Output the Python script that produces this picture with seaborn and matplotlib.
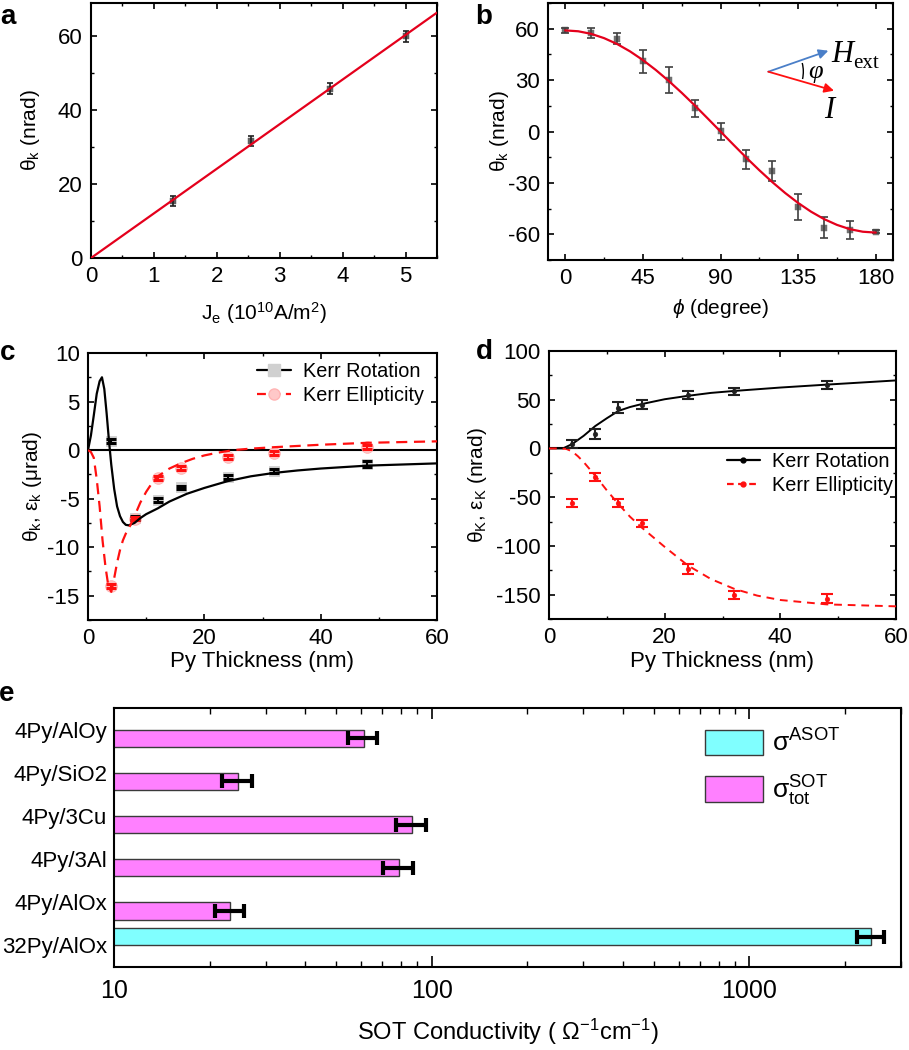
import numpy as np
import pandas as pd
import matplotlib
matplotlib.use("Agg")
import matplotlib.pyplot as plt
import seaborn as sns
from matplotlib.lines import Line2D
from matplotlib.patches import Arc
from matplotlib.ticker import MultipleLocator, LogLocator, NullFormatter

# ---------------- data ----------------
# panel a
a_je = [1.3, 2.55, 3.8, 5.0]
a_theta = [15.5, 31.6, 45.8, 60.0]
a_err = [1.3, 1.3, 1.5, 1.5]
a_fit_x = [0.0, 5.5]
a_fit_y = [0.0, 66.4]

# panel b
b_phi = [0, 15, 30, 45, 60, 75, 90, 105, 120, 135, 150, 165, 180]
b_theta = [59.0, 57.5, 54.2, 40.9, 29.8, 13.6, 0.2, -16.2, -23.0, -44.2, -56.1, -57.5, -58.4]
b_err = [1.3, 3.0, 3.0, 6.7, 7.6, 5.0, 4.9, 5.6, 5.8, 7.5, 6.1, 5.5, 1.0]
b_fit_x = [0, 7.5, 15, 22.5, 30, 37.5, 45, 52.5, 60, 67.5, 75, 82.5, 90,
           97.5, 105, 112.5, 120, 127.5, 135, 142.5, 150, 157.5, 165, 172.5, 180]
b_fit_y = [59.0, 58.5, 57.0, 54.5, 51.1, 46.8, 41.7, 35.9, 29.5, 22.6, 15.3, 7.7, 0.0,
           -7.7, -15.3, -22.6, -29.5, -35.9, -41.7, -46.8, -51.1, -54.5, -57.0, -58.5, -59.0]

# panel c
thick = [4, 8, 12, 16, 24, 32, 48]
c_rot = [0.9, -7.0, -5.1, -3.85, -2.8, -2.15, -1.4]
c_rot_err = [0.2, 0.2, 0.2, 0.2, 0.2, 0.2, 0.3]
c_ell = [-14.0, -7.05, -2.9, -1.8, -0.7, -0.3, 0.35]
c_ell_err = [0.25, 0.2, 0.2, 0.2, 0.2, 0.2, 0.2]
c_rot_fit_x = [0, 0.5, 1, 1.5, 2, 2.4, 2.8, 3.2, 3.6, 4.0, 4.5, 5, 5.5, 6, 6.5, 7, 8, 9,
               10, 12, 14, 17, 20, 24, 28, 32, 36, 40, 48, 60]
c_rot_fit_y = [0, 1.5, 3.6, 5.8, 7.1, 7.5, 6.3, 3.8, 1.0, -1.5, -4.0, -5.8, -6.8, -7.4,
               -7.7, -7.75, -7.5, -7.0, -6.6, -6.0, -5.3, -4.5, -3.9, -3.2, -2.7, -2.35,
               -2.1, -1.9, -1.6, -1.37]
c_ell_fit_x = [0, 0.5, 1, 1.5, 2, 2.5, 3, 3.5, 4, 4.5, 5, 5.5, 6, 6.5, 7, 8, 9, 10, 11,
               12, 14, 16, 18, 20, 22, 25, 28, 32, 40, 48, 60]
c_ell_fit_y = [0, -0.2, -0.8, -3.0, -5.8, -9.3, -12.0, -14.0, -14.6, -13.2, -11.6, -10.3,
               -9.3, -8.6, -8.1, -6.8, -5.4, -4.3, -3.4, -2.7, -1.9, -1.35, -0.9, -0.55,
               -0.3, 0.0, 0.15, 0.3, 0.55, 0.75, 0.9]

# panel d
d_rot = [4.5, 15, 42, 45, 54.5, 58.5, 65]
d_rot_err = [4, 5, 5.5, 4.5, 4, 4, 4.5]
d_ell = [-56, -29, -56, -77, -124, -150, -154]
d_ell_err = [4, 4, 4, 4, 5, 4, 5]
d_rot_fit_x = [0, 2.4, 4, 6, 8, 10, 12, 14, 16, 20, 24, 28, 32, 40, 48, 60]
d_rot_fit_y = [0, 0, 4.5, 13, 23, 31, 38.5, 42.5, 45.5, 50.5, 54, 57, 59, 62.5, 65.5, 69.8]
d_ell_fit_x = [0, 2, 3, 4, 5, 6, 7, 8, 10, 12, 14, 16, 20, 24, 28, 32, 36, 40, 48, 60]
d_ell_fit_y = [0, 0, -0.5, -3, -8, -14, -21, -28, -43, -57, -70, -81, -101, -120, -134,
               -144, -151, -155.5, -160, -162]

# panel e
e_samples = ["4Py/AlOy", "4Py/SiO2", "4Py/3Cu", "4Py/3Al", "4Py/AlOx", "32Py/AlOx"]
e_values = [61.0, 24.5, 86.5, 79.0, 23.2, 2415.0]
e_errors = [6.5, 2.6, 9.5, 8.5, 2.45, 228.0]
e_kind = ["SOT", "SOT", "SOT", "SOT", "SOT", "ASOT"]
e_kind_order = ["ASOT", "SOT"]
e_legend = [r"$\mathrm{σ}^{\mathrm{ASOT}}$", r"$\mathrm{σ}^{\mathrm{SOT}}_{\mathrm{tot}}$"]

# ---------------- style ----------------
sns.set_theme(style="ticks")
plt.rcParams.update({
    "font.family": ["Liberation Sans", "DejaVu Sans"],
    "mathtext.fontset": "custom",
    "mathtext.rm": "Liberation Sans",
    "mathtext.it": "Liberation Sans:italic",
    "mathtext.bf": "Liberation Sans:bold",
    "axes.unicode_minus": False,
    "axes.linewidth": 1.5,
    "axes.edgecolor": "black",
    "xtick.direction": "in",
    "ytick.direction": "in",
    "xtick.top": True,
    "ytick.right": True,
    "xtick.color": "black",
    "ytick.color": "black",
    "text.color": "black",
    "axes.labelcolor": "black",
})

W, H = 909, 1050
fig = plt.figure(figsize=(W / 100, H / 100), dpi=100)


def rect(l, t, r, b):
    return [l / W, 1 - b / H, (r - l) / W, (b - t) / H]


def style(ax, fs=15, major=4.5, minor=2.5):
    ax.tick_params(which="major", length=major, width=1.2, labelsize=fs, pad=6)
    ax.tick_params(which="minor", length=minor, width=1.0)
    for s in ax.spines.values():
        s.set_linewidth(1.5)
        s.set_color("black")


RED = "#e4001c"

# ---------------- panel a ----------------
ax = fig.add_axes(rect(91, 3, 437, 258))
sns.lineplot(x=a_fit_x, y=a_fit_y, ax=ax, color=RED, lw=1.6, zorder=3)
sns.scatterplot(x=a_je, y=a_theta, ax=ax, marker="s", s=18, color="#606060",
                edgecolor="#606060", zorder=2)
ax.errorbar(a_je, a_theta, yerr=a_err, fmt="none", ecolor="#202020", elinewidth=1.2,
            capsize=2.5, capthick=1.2, zorder=2)
ax.set_xlim(0, 5.5)
ax.set_ylim(0, 69)
ax.xaxis.set_major_locator(MultipleLocator(1))
ax.xaxis.set_minor_locator(MultipleLocator(0.5))
ax.yaxis.set_major_locator(MultipleLocator(20))
ax.yaxis.set_minor_locator(MultipleLocator(10))
style(ax, fs=16)
ax.set_xlabel(r"$\mathrm{J_e}$ ($\mathrm{10^{10}}$A/m$\mathrm{^2}$)", fontsize=15, va="center")
ax.set_ylabel(r"$\mathrm{θ_k}$ (nrad)", fontsize=15, va="center")
ax.xaxis.set_label_coords(0.5, -0.215)
ax.yaxis.set_label_coords(-0.176, 0.5)

# ---------------- panel b ----------------
ax = fig.add_axes(rect(548, 3, 893, 260))
sns.lineplot(x=b_fit_x, y=b_fit_y, ax=ax, color=RED, lw=1.6, zorder=3)
sns.scatterplot(x=b_phi, y=b_theta, ax=ax, marker="s", s=18, color="#707070",
                edgecolor="#707070", zorder=2)
ax.errorbar(b_phi, b_theta, yerr=b_err, fmt="none", ecolor="#404040", elinewidth=1.2,
            capsize=3, capthick=1.2, zorder=2)
ax.set_xlim(-10, 190)
ax.set_ylim(-75, 75)
ax.xaxis.set_major_locator(MultipleLocator(45))
ax.xaxis.set_minor_locator(MultipleLocator(22.5))
ax.yaxis.set_major_locator(MultipleLocator(30))
ax.yaxis.set_minor_locator(MultipleLocator(15))
style(ax, fs=16)
ax.set_xlabel(r"$\phi$ (degree)", fontsize=15, va="center")
ax.set_ylabel(r"$\mathrm{θ_k}$ (nrad)", fontsize=15, va="center")
ax.xaxis.set_label_coords(0.5, -0.19)
ax.yaxis.set_label_coords(-0.142, 0.5)
# inset sketch
start = (0.6386, 0.7327)
ax.annotate("", xy=(0.8126, 0.8144), xytext=start, xycoords="axes fraction",
            arrowprops=dict(arrowstyle="-|>", color="#4a7fc8", lw=1.3, mutation_scale=14,
                            shrinkA=0, shrinkB=0))
ax.annotate("", xy=(0.829, 0.6588), xytext=start, xycoords="axes fraction",
            arrowprops=dict(arrowstyle="-|>", color="#ff1010", lw=1.3, mutation_scale=14,
                            shrinkA=0, shrinkB=0))
ax.add_patch(Arc(start, 2 * 35 / 345, 2 * 35 / 257, theta1=-16, theta2=19,
                 transform=ax.transAxes, color="black", lw=1.0))
ax.text(0.822, 0.80, "H", transform=ax.transAxes, fontsize=22, style="italic",
        family="Liberation Serif", ha="left", va="center")
ax.text(0.885, 0.765, "ext", transform=ax.transAxes, fontsize=15,
        family="Liberation Serif", ha="left", va="center")
ax.text(0.776, 0.73, "φ", transform=ax.transAxes, fontsize=19, style="italic",
        family="Liberation Serif", ha="center", va="center")
ax.text(0.814, 0.58, "I", transform=ax.transAxes, fontsize=22, style="italic",
        family="Liberation Serif", ha="center", va="center")

# ---------------- panel c ----------------
ax = fig.add_axes(rect(88, 353, 437, 620))
ax.axhline(0, color="black", lw=1.5, zorder=1)
sns.scatterplot(x=thick, y=c_rot, ax=ax, marker="s", s=60, color="#d0d0d0",
                edgecolor="#d0d0d0", zorder=2)
sns.scatterplot(x=thick, y=c_ell, ax=ax, marker="o", s=70, color="#ffc8c8",
                edgecolor="#ffb4b4", zorder=2)
ax.errorbar(thick, c_rot, yerr=c_rot_err, fmt="none", ecolor="black", elinewidth=1.5,
            capsize=3.5, capthick=2.2, zorder=3)
ax.errorbar(thick, c_ell, yerr=c_ell_err, fmt="none", ecolor="#ff1010", elinewidth=1.5,
            capsize=3.5, capthick=2.2, zorder=3)
sns.lineplot(x=c_rot_fit_x, y=c_rot_fit_y, ax=ax, color="black", lw=1.6, zorder=4,
             sort=False)
sns.lineplot(x=c_ell_fit_x, y=c_ell_fit_y, ax=ax, color="#ff1010", lw=1.6, zorder=4,
             sort=False, linestyle=(0, (5, 3)))
ax.set_xlim(0, 60)
ax.set_ylim(-17.5, 10)
ax.xaxis.set_major_locator(MultipleLocator(20))
ax.xaxis.set_minor_locator(MultipleLocator(10))
ax.yaxis.set_major_locator(MultipleLocator(5))
ax.yaxis.set_minor_locator(MultipleLocator(2.5))
style(ax, fs=16)
ax.set_xlabel("Py Thickness (nm)", fontsize=16, va="center")
ax.set_ylabel(r"$\mathrm{θ_k}$, $\mathrm{ε_k}$ (μrad)", fontsize=15, va="center")
ax.xaxis.set_label_coords(0.5, -0.157)
ax.yaxis.set_label_coords(-0.160, 0.5)
hc = [Line2D([], [], color="black", lw=1.6, marker="s", markersize=8,
             markerfacecolor="#d0d0d0", markeredgecolor="#d0d0d0"),
      Line2D([], [], color="#ff1010", lw=1.6, linestyle=(0, (4, 2.5)), marker="o",
             markersize=8, markerfacecolor="#ffc8c8", markeredgecolor="#ffb4b4")]
ax.legend(hc, ["Kerr Rotation", "Kerr Ellipticity"], loc="upper left",
          bbox_to_anchor=(0.484, 0.966), frameon=False, fontsize=14.3, handlelength=1.7,
          handletextpad=0.6, borderpad=0, borderaxespad=0, labelspacing=0.25)

# ---------------- panel d ----------------
ax = fig.add_axes(rect(549, 351, 896, 619))
ax.axhline(0, color="black", lw=1.5, zorder=1)
sns.lineplot(x=d_rot_fit_x, y=d_rot_fit_y, ax=ax, color="black", lw=1.4, zorder=3)
sns.lineplot(x=d_ell_fit_x, y=d_ell_fit_y, ax=ax, color="#ff1010", lw=1.4, zorder=3,
             linestyle=(0, (4, 3)))
sns.scatterplot(x=thick, y=d_rot, ax=ax, marker="o", s=12, color="#202020",
                edgecolor="#202020", zorder=4)
sns.scatterplot(x=thick, y=d_ell, ax=ax, marker="o", s=12, color="#ff1010",
                edgecolor="#ff1010", zorder=4)
ax.errorbar(thick, d_rot, yerr=d_rot_err, fmt="none", ecolor="#202020", elinewidth=1.5,
            capsize=4, capthick=1.5, zorder=4)
ax.errorbar(thick, d_ell, yerr=d_ell_err, fmt="none", ecolor="#ff1010", elinewidth=1.5,
            capsize=4, capthick=1.5, zorder=4)
ax.set_xlim(0, 60)
ax.set_ylim(-175, 100)
ax.xaxis.set_major_locator(MultipleLocator(20))
ax.xaxis.set_minor_locator(MultipleLocator(10))
ax.yaxis.set_major_locator(MultipleLocator(50))
ax.yaxis.set_minor_locator(MultipleLocator(25))
style(ax, fs=16)
ax.set_xlabel("Py Thickness (nm)", fontsize=16, va="center")
ax.set_ylabel(r"$\mathrm{θ_K}$, $\mathrm{ε_K}$ (nrad)", fontsize=15, va="center")
ax.xaxis.set_label_coords(0.5, -0.160)
ax.yaxis.set_label_coords(-0.207, 0.5)
hd = [Line2D([], [], color="black", lw=1.6, marker="o", markersize=3.5),
      Line2D([], [], color="#ff1010", lw=1.6, linestyle=(0, (3, 2)), marker="o",
             markersize=3.5)]
ax.legend(hd, ["Kerr Rotation", "Kerr Ellipticity"], loc="upper left",
          bbox_to_anchor=(0.513, 0.623), frameon=False, fontsize=14.3, handlelength=1.65,
          handletextpad=0.6, borderpad=0, borderaxespad=0, labelspacing=0.25)

# ---------------- panel e ----------------
ax = fig.add_axes(rect(114, 708, 901, 967))
ax.set_xscale("log")
df_e = pd.DataFrame({"sample": e_samples, "value": e_values, "kind": e_kind})
sns.barplot(data=df_e, y="sample", x="value", hue="kind", hue_order=e_kind_order,
            order=e_samples, orient="h", dodge=True, errorbar=None, saturation=1,
            palette={"ASOT": "#80ffff", "SOT": "#ff80ff"}, edgecolor="#3a3a3a",
            linewidth=1.0, ax=ax)
vals = np.array(e_values)
for p in list(ax.patches):
    w = p.get_width()
    if not np.isfinite(w) or w <= 0:
        continue
    yc = p.get_y() + p.get_height() / 2
    i = int(np.argmin(np.abs(vals - w)))
    ax.errorbar([w], [yc], xerr=[e_errors[i]], fmt="none", ecolor="black",
                elinewidth=3, capsize=5, capthick=3, zorder=5)
ax.set_xlim(10, 3000)
ax.set_ylim(5.5, -0.5)
ax.set_xticks([10, 100, 1000], labels=["10", "100", "1000"])
ax.xaxis.set_minor_locator(LogLocator(base=10, subs=np.arange(2, 10)))
ax.xaxis.set_minor_formatter(NullFormatter())
ax.tick_params(axis="x", which="major", length=8, width=1.2, labelsize=18, pad=9,
               top=True, bottom=True, direction="in")
ax.tick_params(axis="x", which="minor", length=4.5, width=1.0, top=True, bottom=True,
               direction="in")
ax.tick_params(axis="y", which="both", length=0, labelsize=16, pad=5, right=False)
for s in ax.spines.values():
    s.set_linewidth(1.5)
    s.set_color("black")
ax.set_ylabel("")
ax.set_xlabel(r"SOT Conductivity ( Ω$\mathrm{^{-1}}$cm$\mathrm{^{-1}}$)", fontsize=17,
              va="center")
ax.xaxis.set_label_coords(0.5, -0.25)
h, _ = ax.get_legend_handles_labels()
ax.legend(h, e_legend, loc="upper left", bbox_to_anchor=(0.751, 0.919), frameon=False,
          fontsize=19, handlelength=2.2, handleheight=1.1, labelspacing=0.65,
          borderpad=0, borderaxespad=0, handletextpad=0.35)

# panel letters
for lab, (x, y) in {"a": (8, 17), "b": (484, 17), "c": (8, 353), "d": (484, 352),
                    "e": (7, 694)}.items():
    fig.text(x / W, 1 - y / H, lab, fontsize=20, fontweight="bold", ha="center",
             va="center")

fig.savefig("out.png", dpi=100)
